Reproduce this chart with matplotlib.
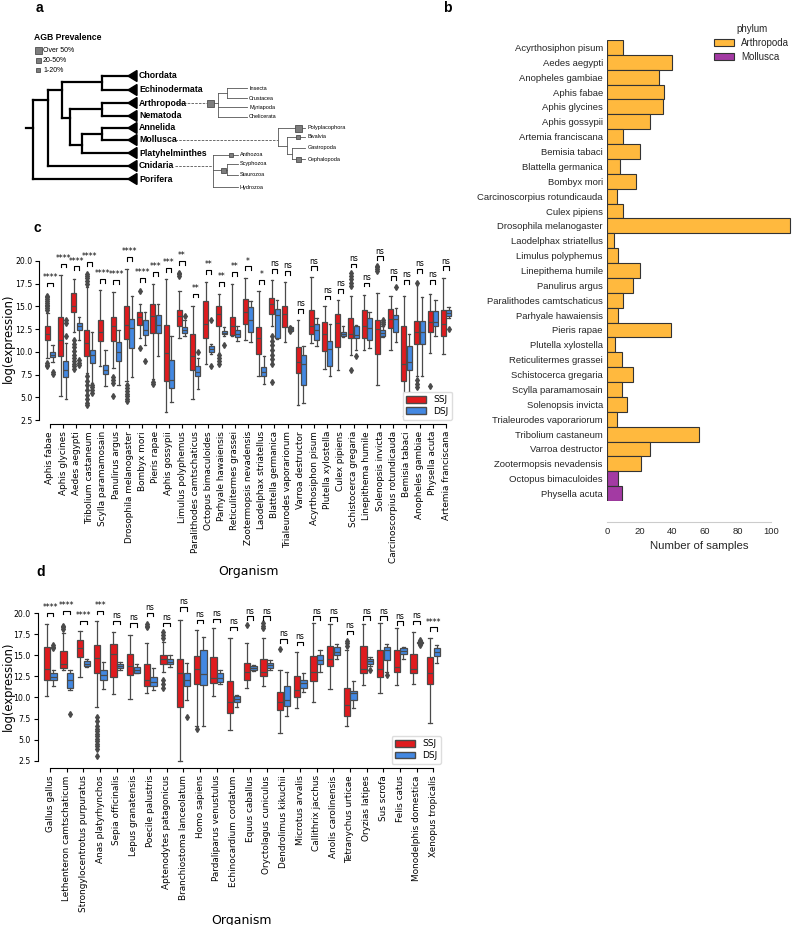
import matplotlib
matplotlib.use("Agg")
import matplotlib.pyplot as plt
from matplotlib.patches import Rectangle, Polygon, Patch

# ---------------- panel b data ----------------
b_orgs = ["Acyrthosiphon pisum", "Aedes aegypti", "Anopheles gambiae", "Aphis fabae",
          "Aphis glycines", "Aphis gossypii", "Artemia franciscana", "Bemisia tabaci",
          "Blattella germanica", "Bombyx mori", "Carcinoscorpius rotundicauda", "Culex pipiens",
          "Drosophila melanogaster", "Laodelphax striatellus", "Limulus polyphemus",
          "Linepithema humile", "Panulirus argus", "Paralithodes camtschaticus",
          "Parhyale hawaiensis", "Pieris rapae", "Plutella xylostella", "Reticulitermes grassei",
          "Schistocerca gregaria", "Scylla paramamosain", "Solenopsis invicta",
          "Trialeurodes vaporariorum", "Tribolium castaneum", "Varroa destructor",
          "Zootermopsis nevadensis", "Octopus bimaculoides", "Physella acuta"]
b_counts = [10, 40, 32, 35, 34, 26, 10, 20, 8, 18, 6, 10, 112, 4, 7, 20, 16, 10, 7, 39, 5, 9,
            16, 9, 12, 6, 56, 26, 21, 7, 9]
b_phylum = ["Arthropoda"] * 29 + ["Mollusca"] * 2

# ---------------- panel c data (lo, q1, median, q3, hi) ----------------
c_orgs = ["Aphis fabae", "Aphis glycines", "Aedes aegypti", "Tribolium castaneum",
          "Scylla paramamosain", "Panulirus argus", "Drosophila melanogaster", "Bombyx mori",
          "Pieris rapae", "Aphis gossypii", "Limulus polyphemus", "Paralithodes camtschaticus",
          "Octopus bimaculoides", "Parhyale hawaiensis", "Reticulitermes grassei",
          "Zootermopsis nevadensis", "Laodelphax striatellus", "Blattella germanica",
          "Trialeurodes vaporariorum", "Varroa destructor", "Acyrthosiphon pisum",
          "Plutella xylostella", "Culex pipiens", "Schistocerca gregaria", "Linepithema humile",
          "Solenopsis invicta", "Carcinoscorpius rotundicauda", "Bemisia tabaci",
          "Anopheles gambiae", "Physella acuta", "Artemia franciscana"]
c_ssj = [(9.3, 11.3, 12.0, 12.8, 14.3), (5.1, 9.5, 11.3, 13.8, 18.5), (12.2, 14.4, 15.0, 16.5, 18.0),
         (7.7, 9.5, 11.0, 12.4, 17.1), (8.4, 11.2, 12.2, 13.5, 16.8), (8.2, 11.2, 12.8, 13.8, 16.6),
         (6.8, 11.4, 13.0, 15.1, 19.1), (11.5, 13.0, 13.8, 14.4, 15.3), (7.0, 12.1, 14.0, 15.3, 17.5),
         (3.4, 6.8, 9.9, 13.0, 18.0), (11.5, 12.8, 13.9, 14.6, 16.7), (4.8, 8.0, 9.5, 12.0, 15.0),
         (8.7, 11.5, 13.1, 15.6, 17.7), (9.8, 12.9, 14.2, 15.0, 16.4), (11.7, 11.9, 12.8, 13.8, 17.5),
         (11.3, 13.1, 14.4, 15.8, 18.1), (7.3, 9.8, 11.5, 12.7, 16.7), (12.8, 14.2, 15.3, 15.9, 17.9),
         (11.1, 12.7, 14.2, 15.1, 17.7), (4.2, 7.7, 8.9, 10.5, 13.5), (11.0, 12.0, 12.8, 14.6, 18.2),
         (8.1, 10.1, 12.0, 13.3, 15.0), (8.0, 10.5, 13.2, 14.2, 15.7), (9.65, 11.5, 12.0, 13.7, 16.1),
         (10.2, 11.5, 12.8, 14.6, 16.3), (6.35, 9.8, 12.5, 13.5, 16.5), (10.2, 12.6, 13.6, 14.7, 16.1),
         (2.9, 6.8, 8.7, 12.8, 16.2), (7.3, 10.9, 12.2, 13.4, 17.7), (9.9, 12.2, 13.3, 14.5, 16.4),
         (9.8, 11.7, 13.1, 14.6, 18.1)]
c_ssj_fliers = [[8.4, 8.6, 8.8, 14.6, 14.8, 15.0, 15.2, 15.4, 15.6, 15.8, 16.0, 16.2], [],
                [8.1, 8.4, 8.7, 9.0, 9.3, 9.7, 10.1, 10.5, 10.9, 11.3],
                [4.1, 4.4, 4.8, 5.3, 5.8, 6.3, 6.8, 7.3, 17.5, 17.8, 18.1, 18.4, 18.6], [],
                [5.1, 6.6, 6.9, 7.2], [4.6, 4.8, 5.1, 5.4, 5.7, 6.0, 6.3], [10.4, 16.7], [6.5, 6.7], [],
                [18.4, 18.6, 18.7], [], [], [8.7, 9.0, 9.3, 9.6], [], [], [],
                [6.7, 8.7, 9.2, 9.7, 10.2, 10.7, 11.2, 11.7], [], [], [], [], [],
                [8.0, 17.2, 17.6, 18.0, 18.3, 18.7], [], [18.9, 19.1, 19.3, 19.5], [], [],
                [6.1, 6.5, 6.9, 17.6], [6.2], []]
c_dsj = [(8.9, 9.4, 9.7, 10.0, 10.8), (4.8, 7.2, 8.0, 9.0, 11.0), (11.3, 12.4, 12.9, 13.2, 13.8),
         (6.6, 8.8, 9.7, 10.2, 12.2), (6.2, 7.6, 8.0, 8.6, 10.2), (6.4, 9.0, 10.0, 11.1, 12.4),
         (7.2, 10.4, 12.6, 13.6, 16.2), (10.8, 11.9, 12.4, 13.5, 14.4), (9.5, 12.1, 13.0, 14.1, 15.3),
         (4.5, 6.0, 6.9, 9.1, 11.8), (11.7, 12.1, 12.4, 12.7, 13.5), (5.9, 7.3, 7.8, 8.4, 9.3),
         (9.8, 10.0, 10.3, 10.6, 10.9), (11.7, 12.0, 12.1, 12.3, 12.7), (11.2, 11.6, 12.0, 12.4, 12.8),
         (11.1, 12.2, 13.5, 14.9, 15.6), (6.5, 7.3, 7.8, 8.3, 9.5), (11.4, 11.5, 14.05, 14.7, 15.7),
         (12.2, 12.3, 12.5, 12.7, 12.8), (4.4, 6.4, 8.7, 9.6, 10.6), (10.6, 11.3, 12.4, 13.1, 13.75),
         (7.3, 8.4, 10.3, 11.2, 13.1), (11.6, 11.7, 12.0, 12.2, 12.8), (10.2, 11.5, 11.85, 12.8, 13.0),
         (10.4, 11.3, 12.6, 13.7, 14.4), (11.6, 11.7, 12.1, 12.4, 12.8), (11.1, 12.2, 13.6, 14.05, 14.8),
         (5.6, 8.0, 8.85, 10.6, 12.0), (7.3, 10.9, 12.2, 13.4, 16.0), (11.7, 12.8, 13.3, 14.5, 15.7),
         (13.7, 13.9, 14.3, 14.6, 14.9)]
c_dsj_fliers = [[7.6, 7.8], [11.8, 13.2, 13.5], [8.5, 8.8, 9.1], [5.5, 5.8, 6.1, 6.4], [], [], [],
                [9.0], [], [], [13.9], [10.0], [8.4, 13.5], [10.75], [], [], [], [], [12.35, 12.6],
                [], [], [], [], [9.5], [], [13.1, 13.3, 13.5], [17.1], [], [], [], [12.5]]
c_sig = ["****", "****", "****", "****", "****", "****", "****", "****", "***", "***", "**", "**",
         "**", "**", "**", "*", "*", "ns", "ns", "ns", "ns", "ns", "ns", "ns", "ns", "ns", "ns", "ns",
         "ns", "ns", "ns"]
c_sig_y = [17.6, 19.7, 19.4, 19.85, 18.0, 17.9, 20.4, 18.1, 18.8, 19.2, 20.0, 16.4, 19.0, 17.7, 18.8,
           19.4, 17.9, 19.1, 18.9, 14.7, 19.4, 16.2, 16.9, 19.7, 17.6, 20.5, 18.3, 17.9, 19.1, 17.9, 19.4]

# ---------------- panel d data ----------------
d_orgs = ["Gallus gallus", "Lethenteron camtschaticum", "Strongylocentrotus purpuratus",
          "Anas platyrhynchos", "Sepia officinalis", "Lepus granatensis", "Poecile palustris",
          "Aptenodytes patagonicus", "Branchiostoma lanceolatum", "Homo sapiens",
          "Pardaliparus venustulus", "Echinocardium cordatum", "Equus caballus",
          "Oryctolagus cuniculus", "Dendrolimus kikuchii", "Microtus arvalis", "Callithrix jacchus",
          "Anolis carolinensis", "Tetranychus urticae", "Oryzias latipes", "Sus scrofa",
          "Felis catus", "Monodelphis domestica", "Xenopus tropicalis"]
d_ssj = [(10.2, 12.1, 13.4, 16.0, 18.65), (13.2, 13.45, 14.0, 15.5, 17.6), (12.4, 14.8, 15.8, 16.8, 17.9),
         (8.9, 12.9, 14.7, 16.2, 19.0), (10.4, 12.45, 15.2, 16.3, 17.8), (9.8, 12.7, 13.7, 15.1, 17.4),
         (10.55, 11.3, 12.1, 14.0, 16.5), (13.0, 14.0, 14.5, 15.0, 16.6), (2.5, 8.9, 12.85, 14.6, 19.2),
         (6.6, 11.6, 13.4, 14.9, 18.0), (10.2, 11.7, 12.25, 14.8, 18.2), (6.1, 8.1, 9.5, 12.0, 17.1),
         (11.15, 12.1, 13.05, 14.1, 16.4), (11.3, 12.5, 13.0, 14.6, 17.0), (5.8, 8.5, 9.5, 10.7, 13.3),
         (8.7, 10.0, 10.9, 12.5, 15.4), (9.5, 12.0, 13.05, 14.9, 18.85), (11.0, 13.7, 14.6, 16.1, 18.7),
         (6.6, 7.8, 9.1, 11.1, 15.6), (11.5, 12.85, 13.4, 16.1, 18.65), (10.5, 12.45, 13.4, 15.6, 18.8),
         (11.45, 13.05, 13.6, 15.6, 18.2), (11.6, 12.85, 13.4, 15.2, 17.8), (7.0, 11.6, 12.9, 14.75, 17.0)]
d_ssj_fliers = [[], [18.1, 18.3, 18.5], [],
                [3.0, 3.9, 4.2, 4.5, 4.8, 5.1, 5.4, 5.7, 6.0, 6.3, 6.6, 7.2, 7.7], [], [],
                [18.3, 18.5, 18.7], [11.1, 11.6, 12.1, 17.0, 17.4, 17.7], [], [6.3], [], [],
                [18.6], [18.2, 18.5, 18.8], [15.7], [], [], [], [16.1, 16.4, 16.7], [], [], [], [], []]
d_dsj = [(11.35, 12.1, 12.45, 12.85, 13.2), (10.9, 11.07, 12.05, 12.85, 13.3), (13.55, 13.7, 14.0, 14.35, 14.6),
         (11.0, 12.1, 12.6, 13.3, 14.2), (13.25, 13.45, 13.7, 13.95, 14.2), (12.85, 12.9, 13.25, 13.6, 14.0),
         (10.9, 11.3, 11.85, 12.45, 13.45), (13.6, 14.0, 14.2, 14.6, 15.0), (9.7, 11.3, 12.1, 12.95, 14.1),
         (6.6, 11.5, 12.8, 15.6, 17.2), (11.6, 11.8, 12.25, 12.85, 13.3), (8.9, 9.4, 9.8, 10.2, 10.3),
         (13.1, 13.25, 13.45, 13.7, 13.8), (13.3, 13.45, 13.8, 14.1, 14.45), (7.8, 9.0, 9.7, 11.3, 13.0),
         (10.7, 11.15, 11.7, 12.1, 12.85), (13.05, 14.0, 14.4, 15.0, 15.6), (14.6, 15.0, 15.4, 16.0, 16.3),
         (8.7, 9.7, 10.5, 10.8, 12.0), (13.7, 14.0, 14.3, 14.5, 14.8), (13.05, 14.4, 15.6, 16.0, 16.3),
         (14.6, 15.2, 15.5, 15.8, 16.0), (16.3, 16.4, 16.5, 16.6, 16.7), (14.1, 14.9, 15.4, 15.9, 16.2)]
d_dsj_fliers = [[15.8, 16.0, 16.2], [8.0], [], [], [], [], [], [], [7.65], [], [], [], [], [], [], [], [],
                [], [], [13.3], [12.65], [], [16.2, 16.8], []]
d_sig = ["****", "****", "****", "***"] + ["ns"] * 19 + ["****"]
d_sig_y = [20.0, 20.3, 19.1, 20.3, 19.1, 18.8, 20.0, 18.85, 20.7, 19.2, 19.3, 18.4, 19.6, 19.6, 16.9,
           16.6, 19.6, 19.5, 17.9, 19.6, 19.6, 19.0, 19.1, 18.3]

RED = "#e01b1e"
BLUE = "#4388e2"
GRAY = "#4a4a4a"
PHYLUM_COLORS = {"Arthropoda": "#ffb93e", "Mollusca": "#a33aa3"}

W, H = 792, 925
fig = plt.figure(figsize=(W / 100, H / 100), dpi=100)


def fx(px):
    return px / W


def fy(py):
    return 1 - py / H


# ---------------- panel a: cladogram ----------------
ax_a = fig.add_axes([0, fy(200), fx(400), 200 / H])
ax_a.set_xlim(0, 400)
ax_a.set_ylim(200, 0)
ax_a.axis("off")

SANS = "Liberation Sans"


def seg(x1, y1, x2, y2, lw=1.6, color="black", ls="-"):
    ax_a.plot([x1, x2], [y1, y2], color=color, lw=lw, ls=ls, solid_capstyle="projecting")


def square(x, y, s):
    ax_a.add_patch(Rectangle((x - s / 2, y - s / 2), s, s, facecolor="#7d7d7d",
                             edgecolor="#4d4d4d", lw=0.6, zorder=3))


ax_a.text(34, 37, "AGB Prevalence", fontsize=6.2, fontweight="bold", family=SANS, va="center")
for yy, s, lab in [(50, 7, "Over 50%"), (60, 5, "20-50%"), (70, 3.5, "1-20%")]:
    square(38, yy, s)
    ax_a.text(43, yy, lab, fontsize=5, family=SANS, va="center")

# main tree
seg(26, 128, 33, 128)
seg(33, 100, 33, 179)
seg(33, 179, 128, 179)
seg(33, 100, 48, 100)
seg(48, 90, 48, 166)
seg(48, 166, 128, 166)
seg(48, 90, 62, 90)
seg(62, 82, 62, 118)
seg(62, 82, 102, 82)
seg(102, 76, 102, 90)
seg(102, 76, 128, 76)
seg(102, 90, 128, 90)
seg(62, 118, 70, 118)
seg(70, 109, 70, 145)
seg(70, 109, 102, 109)
seg(102, 103, 102, 116)
seg(102, 103, 128, 103)
seg(102, 116, 128, 116)
seg(70, 145, 82, 145)
seg(82, 134, 82, 153)
seg(82, 134, 102, 134)
seg(102, 128, 102, 140)
seg(102, 128, 128, 128)
seg(102, 140, 128, 140)
seg(82, 153, 128, 153)

phyla = [("Chordata", 76), ("Echinodermata", 90), ("Arthropoda", 103), ("Nematoda", 116),
         ("Annelida", 128), ("Mollusca", 140), ("Platyhelminthes", 153), ("Cnidaria", 166),
         ("Porifera", 179)]
for name, yy in phyla:
    ax_a.add_patch(Polygon([(128, yy), (137, yy - 5.5), (137, yy + 5.5)], closed=True,
                           facecolor="black", edgecolor="black", zorder=3))
    ax_a.text(139, yy, name, fontsize=6.3, fontweight="bold", family=SANS, va="center")

thin = dict(lw=0.6, color="#555555")
dash = (0, (3, 1.5))
# arthropoda subtree
seg(176, 103, 207, 103, lw=0.6, color="#555555", ls=dash)
seg(210, 103, 218, 103, **thin)
seg(218, 93, 218, 117, **thin)
seg(218, 93, 227, 93, **thin)
seg(227, 88, 227, 98, **thin)
for yy, lab, x0 in [(88, "Insecta", 227), (98, "Crustacea", 227), (107, "Myriapoda", 218),
                    (117, "Chelicerata", 218)]:
    seg(x0, yy, 247, yy, **thin)
    ax_a.text(249, yy, lab, fontsize=4, family=SANS, va="center")
square(210, 103, 7)

# mollusca subtree
seg(175, 140, 278, 140, lw=0.6, color="#555555", ls=dash)
seg(278, 128, 278, 146, **thin)
seg(278, 146, 287, 146, **thin)
seg(287, 137, 287, 154, **thin)
seg(287, 154, 292, 154, **thin)
seg(292, 148, 292, 159, **thin)
for yy, lab, x0 in [(128, "Polyplacophora", 278), (137, "Bivalvia", 287), (148, "Gastropoda", 292),
                    (159, "Cephalopoda", 292)]:
    seg(x0, yy, 305, yy, **thin)
    ax_a.text(308, yy, lab, fontsize=4, family=SANS, va="center")
square(298, 128, 7)
square(298, 137, 3.5)
square(298, 159, 5)

# cnidaria subtree
seg(175, 166, 213, 166, lw=0.6, color="#555555", ls=dash)
seg(213, 155, 213, 187, **thin)
seg(213, 170, 227, 170, **thin)
seg(227, 164, 227, 175, **thin)
for yy, lab, x0 in [(155, "Anthozoa", 213), (164, "Scyphozoa", 227), (175, "Staurozoa", 227),
                    (187, "Hydrozoa", 213)]:
    seg(x0, yy, 238, yy, **thin)
    ax_a.text(240, yy, lab, fontsize=4, family=SANS, va="center")
square(231, 155, 3.5)
square(223, 170, 5)

# ---------------- panel b: sample counts ----------------
ax_b = fig.add_axes([fx(607), fy(501), 185 / W, 461 / H])
for side in ["left", "top", "right"]:
    ax_b.spines[side].set_visible(False)
ax_b.spines["bottom"].set_position(("outward", 15))
ax_b.spines["bottom"].set_color("#cccccc")
ypos = list(range(len(b_orgs)))
ax_b.barh(ypos, b_counts, height=1.0, color=[PHYLUM_COLORS[p] for p in b_phylum],
          edgecolor="#333333", linewidth=0.8)
ax_b.set_ylim(len(b_orgs) - 0.5, -0.5)
ax_b.set_xlim(0, 113)
ax_b.spines["bottom"].set_bounds(0, 100)
ax_b.set_yticks(ypos)
ax_b.set_yticklabels(b_orgs)
ax_b.set_xticks([0, 20, 40, 60, 80, 100])
ax_b.tick_params(axis="y", length=0, pad=3, labelsize=6.8, labelcolor="#262626",
                 labelfontfamily=SANS)
ax_b.tick_params(axis="x", length=0, pad=4, labelsize=6.8, labelcolor="#262626",
                 labelfontfamily=SANS)
ax_b.set_xlabel("Number of samples", fontsize=8.2, family=SANS, color="#262626", labelpad=3)
handles = [Patch(facecolor=PHYLUM_COLORS[k], edgecolor="#333333", lw=0.8, label=k)
           for k in ["Arthropoda", "Mollusca"]]
leg = ax_b.legend(handles=handles, title="phylum", loc="upper left", frameon=False,
                  bbox_to_anchor=(fx(714), fy(24)), bbox_transform=fig.transFigure,
                  prop={"family": SANS, "size": 7}, title_fontsize=7,
                  handlelength=2.1, handleheight=0.7, handletextpad=0.7, labelspacing=0.4,
                  borderpad=0, borderaxespad=0)
leg.get_title().set_family(SANS)
leg.get_title().set_color("#262626")
for t in leg.get_texts():
    t.set_color("#262626")


# ---------------- boxplot panels ----------------
def stats(rows, fliers):
    return [dict(whislo=r[0], q1=r[1], med=r[2], q3=r[3], whishi=r[4], fliers=f)
            for r, f in zip(rows, fliers)]


def draw_boxes(ax, orgs, ssj, ssj_f, dsj, dsj_f, sig, sig_y, label_x):
    n = len(orgs)
    # spine placement first: moving a spine resets the tick labels
    for side in ["top", "right"]:
        ax.spines[side].set_visible(False)
    ax.spines["left"].set_position(("outward", 3))
    for rows, fl, col, off in [(ssj, ssj_f, RED, -0.2), (dsj, dsj_f, BLUE, 0.2)]:
        ax.bxp(stats(rows, fl), positions=[i + off for i in range(n)], widths=0.38,
               patch_artist=True, manage_ticks=False,
               boxprops=dict(facecolor=col, edgecolor=GRAY, linewidth=0.9),
               medianprops=dict(color=GRAY, linewidth=0.9),
               whiskerprops=dict(color=GRAY, linewidth=0.9),
               capprops=dict(color=GRAY, linewidth=0.9),
               flierprops=dict(marker="d", markerfacecolor=GRAY, markeredgecolor=GRAY,
                               markersize=3))
    for i, (lab, hy) in enumerate(zip(sig, sig_y)):
        ax.plot([i - 0.2, i - 0.2, i + 0.2, i + 0.2], [hy - 0.4, hy, hy, hy - 0.4],
                color="black", lw=0.8, clip_on=False)
        ax.text(i, hy + 0.1, lab, ha="center", va="bottom", fontsize=5.5, clip_on=False)
    ax.set_xlim(-0.5, n - 0.5)
    ax.spines["left"].set_bounds(2.5, 20.0)
    ax.spines["bottom"].set_bounds(0, n - 1)
    ax.set_xticks(range(n))
    ax.set_xticklabels(orgs, rotation=90)
    ax.set_yticks([2.5, 5.0, 7.5, 10.0, 12.5, 15.0, 17.5, 20.0])
    ax.set_yticklabels(["2.5", "5.0", "7.5", "10.0", "12.5", "15.0", "17.5", "20.0"])
    ax.tick_params(axis="x", length=3, width=0.8, pad=2, labelsize=6.4)
    ax.tick_params(axis="y", length=3, width=0.8, pad=2, labelsize=5.6)
    ax.set_ylabel("log(expression)", fontsize=8.4)
    ax.yaxis.set_label_coords(label_x, 0.5)
    ax.set_xlabel("Organism", fontsize=9, labelpad=1)
    ax.legend(handles=[Patch(facecolor=RED, edgecolor=GRAY, label="SSJ"),
                       Patch(facecolor=BLUE, edgecolor=GRAY, label="DSJ")],
              loc="lower right", bbox_to_anchor=(1.01, 0.0), fontsize=6.5,
              handlelength=2.2, handleheight=0.8, borderpad=0.4, labelspacing=0.3,
              framealpha=1, edgecolor="#dddddd", fancybox=True)


ax_c = fig.add_axes([fx(43.4), fy(424.1), (452.6 - 43.4) / W, (424.1 - 251.9) / H])
ax_c.set_ylim(2.05, 21.0)
draw_boxes(ax_c, c_orgs, c_ssj, c_ssj_fliers, c_dsj, c_dsj_fliers, c_sig, c_sig_y,
           (15 - 43.4) / (452.6 - 43.4))

ax_d = fig.add_axes([fx(41.7), fy(768.3), 400 / W, (768.3 - 604.6) / H])
ax_d.set_ylim(1.6, 21.0)
draw_boxes(ax_d, d_orgs, d_ssj, d_ssj_fliers, d_dsj, d_dsj_fliers, d_sig, d_sig_y,
           (15 - 41.7) / 400)

for lab, x, y in [("a", 36, 12), ("b", 443, 12), ("c", 34, 232), ("d", 36, 576)]:
    fig.text(fx(x), fy(y), lab, fontsize=10, fontweight="bold", family=SANS)

fig.savefig("out.png", dpi=100)
